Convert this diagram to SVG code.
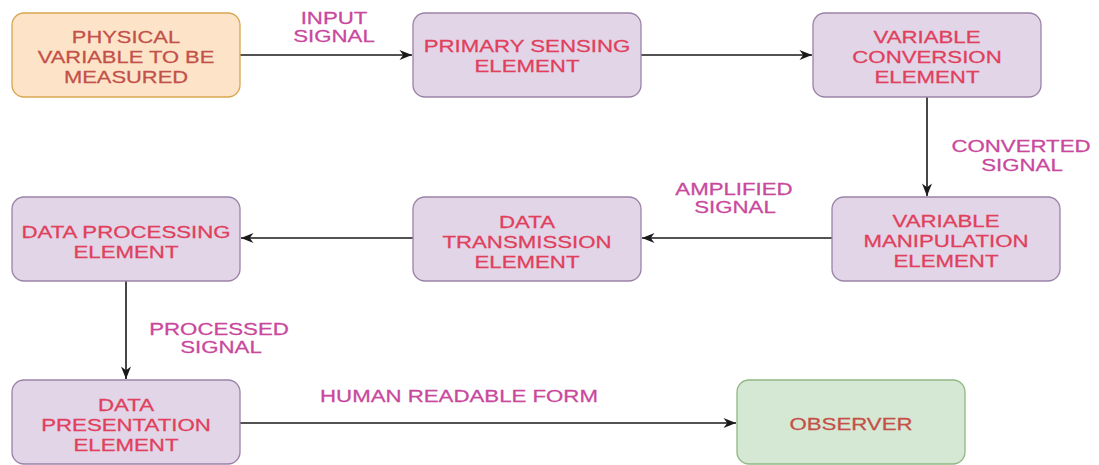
<svg xmlns="http://www.w3.org/2000/svg" width="1099" height="465" viewBox="0 0 1099 465">
  <style>
    .box { stroke-width: 1.3; }
    .orange { fill: #fde4c8; stroke: #d9a650; }
    .purple { fill: #e1d5e7; stroke: #9a82a8; }
    .green { fill: #d5e8d4; stroke: #8fb882; }
    .t { font-family: "Liberation Sans", Arial, sans-serif; font-size: 16px; text-anchor: middle; stroke-width: 0.25; }
    .nt { fill: #e0405c; stroke: #e0405c; }
    .nt2 { fill: #c4504a; stroke: #c4504a; }
    .lt { fill: #c9489e; stroke: #c9489e; }
    .edge { fill: none; stroke: #1a1a1a; stroke-width: 1.6; }
  </style>
  <defs>
    <marker id="arrow" viewBox="0 0 10 8" refX="10" refY="4" markerWidth="13" markerHeight="10" markerUnits="userSpaceOnUse" orient="auto">
      <path d="M0,0 L10,4 L0,8 L3,4 z" fill="#1a1a1a"/>
    </marker>
  </defs>
  <rect width="1099" height="465" fill="#ffffff"/>

  <!-- connectors -->
  <g id="connectors">
    <line class="edge" x1="240" y1="55" x2="412" y2="55" marker-end="url(#arrow)"/>
    <line class="edge" x1="641" y1="55" x2="812" y2="55" marker-end="url(#arrow)"/>
    <line class="edge" x1="927" y1="97" x2="927" y2="196" marker-end="url(#arrow)"/>
    <line class="edge" x1="832" y1="238" x2="642" y2="238" marker-end="url(#arrow)"/>
    <line class="edge" x1="413" y1="238" x2="241" y2="238" marker-end="url(#arrow)"/>
    <line class="edge" x1="126" y1="281" x2="126" y2="379" marker-end="url(#arrow)"/>
    <line class="edge" x1="240" y1="423" x2="736" y2="423" marker-end="url(#arrow)"/>
  </g>

  <!-- connector labels -->
  <g id="labels" class="t lt">
    <text transform="translate(334,24) scale(1.39,1)">INPUT</text>
    <text transform="translate(334,42) scale(1.39,1)">SIGNAL</text>
    <text transform="translate(1021,152) scale(1.39,1)">CONVERTED</text>
    <text transform="translate(1022,171) scale(1.39,1)">SIGNAL</text>
    <text transform="translate(734,195) scale(1.39,1)">AMPLIFIED</text>
    <text transform="translate(735,213) scale(1.39,1)">SIGNAL</text>
    <text transform="translate(219,335) scale(1.39,1)">PROCESSED</text>
    <text transform="translate(221,353) scale(1.39,1)">SIGNAL</text>
    <text transform="translate(459,402) scale(1.39,1)">HUMAN READABLE FORM</text>
  </g>

  <!-- nodes -->
  <g id="physical-variable">
    <rect class="box orange" x="12" y="13" width="228" height="84" rx="12"/>
    <g class="t nt2">
      <text transform="translate(126,43) scale(1.37,1)">PHYSICAL</text>
      <text transform="translate(126,63) scale(1.37,1)">VARIABLE TO BE</text>
      <text transform="translate(126,83) scale(1.37,1)">MEASURED</text>
    </g>
  </g>

  <g id="primary-sensing">
    <rect class="box purple" x="413" y="13" width="228" height="84" rx="12"/>
    <g class="t nt">
      <text transform="translate(527,52) scale(1.39,1)">PRIMARY SENSING</text>
      <text transform="translate(527,72) scale(1.39,1)">ELEMENT</text>
    </g>
  </g>

  <g id="variable-conversion">
    <rect class="box purple" x="813" y="13" width="228" height="84" rx="12"/>
    <g class="t nt">
      <text transform="translate(927,43) scale(1.39,1)">VARIABLE</text>
      <text transform="translate(927,63) scale(1.39,1)">CONVERSION</text>
      <text transform="translate(927,83) scale(1.39,1)">ELEMENT</text>
    </g>
  </g>

  <g id="variable-manipulation">
    <rect class="box purple" x="832" y="197" width="228" height="84" rx="12"/>
    <g class="t nt">
      <text transform="translate(946,227) scale(1.39,1)">VARIABLE</text>
      <text transform="translate(946,247) scale(1.39,1)">MANIPULATION</text>
      <text transform="translate(946,267) scale(1.39,1)">ELEMENT</text>
    </g>
  </g>

  <g id="data-transmission">
    <rect class="box purple" x="413" y="197" width="228" height="84" rx="12"/>
    <g class="t nt">
      <text transform="translate(527,228) scale(1.39,1)">DATA</text>
      <text transform="translate(527,248) scale(1.39,1)">TRANSMISSION</text>
      <text transform="translate(527,268) scale(1.39,1)">ELEMENT</text>
    </g>
  </g>

  <g id="data-processing">
    <rect class="box purple" x="12" y="197" width="228" height="84" rx="12"/>
    <g class="t nt">
      <text transform="translate(126,238) scale(1.39,1)">DATA PROCESSING</text>
      <text transform="translate(126,258) scale(1.39,1)">ELEMENT</text>
    </g>
  </g>

  <g id="data-presentation">
    <rect class="box purple" x="12" y="380" width="228" height="84" rx="12"/>
    <g class="t nt">
      <text transform="translate(126,411) scale(1.39,1)">DATA</text>
      <text transform="translate(126,431) scale(1.39,1)">PRESENTATION</text>
      <text transform="translate(126,451) scale(1.39,1)">ELEMENT</text>
    </g>
  </g>

  <g id="observer">
    <rect class="box green" x="737" y="380" width="228" height="84" rx="12"/>
    <g class="t nt2">
      <text transform="translate(851,430) scale(1.39,1)">OBSERVER</text>
    </g>
  </g>
</svg>
